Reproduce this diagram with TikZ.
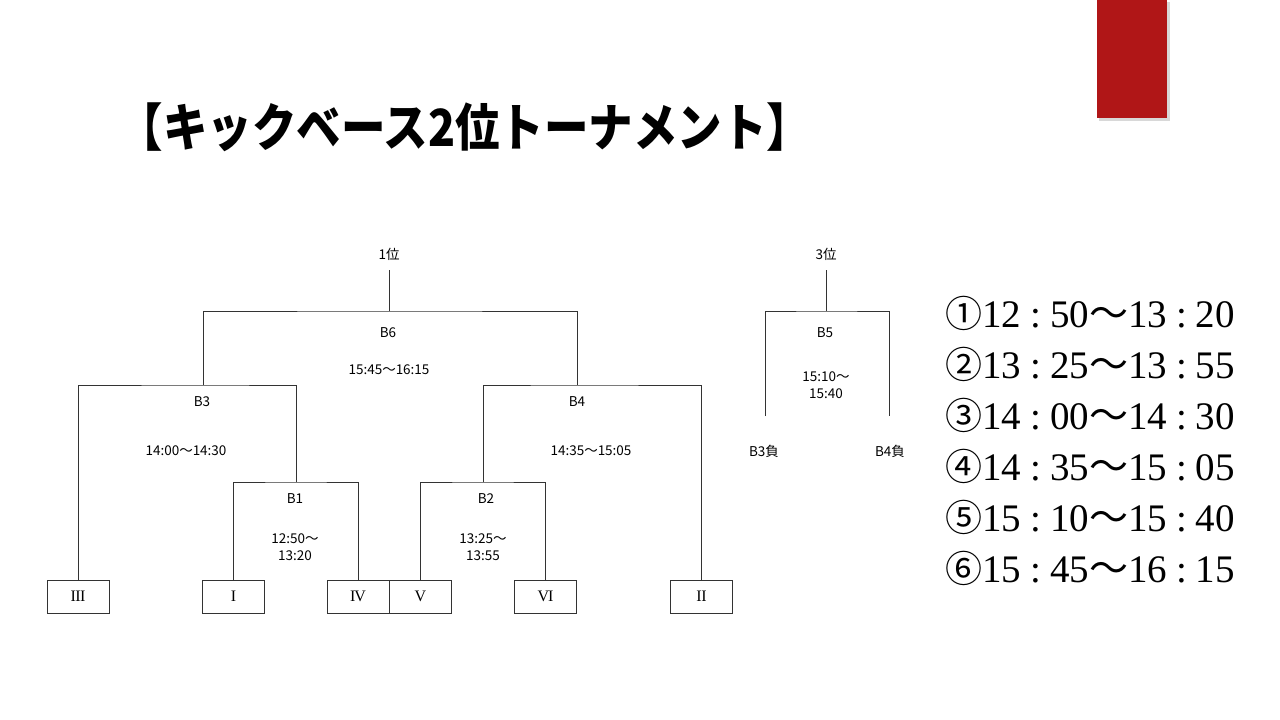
\documentclass[tikz,border=0pt]{standalone}
\usepackage{fontspec}
\usepackage{graphicx}
\newfontfamily\cjk{Noto Sans CJK JP}
\newfontfamily\ser{Liberation Serif}
\definecolor{tabred}{RGB}{176,22,23}
\newcommand{\schedcolon}{\hspace{9pt}{\ser :}\hspace{9pt}}
\newcommand{\schedline}[5]{{\cjk\fontsize{37}{37}\selectfont #1}{\ser #2}\schedcolon{\ser #3}{\cjk ～}{\ser #4}\schedcolon{\ser #5}}
\begin{document}
\begin{tikzpicture}[x=1pt,y=-1pt,
  conn/.style={draw=black!80, line width=0.9pt},
  lbl/.style={inner sep=0pt, font=\cjk\fontsize{13.5}{17}\selectfont, align=center},
  rbox/.style={draw=black!80, line width=0.9pt, minimum width=62pt, minimum height=33pt, inner sep=0pt, font=\ser\fontsize{16}{16}\selectfont},
  sched/.style={anchor=west, inner sep=0pt, font=\fontsize{39}{39}\selectfont}]
\useasboundingbox (0,0) rectangle (1280,720);
\fill[white] (0,0) rectangle (1280,720);
% red tab
\fill[black!25, opacity=0.6] (1099,2) rectangle (1170,121);
\fill[tabred] (1097,0) rectangle (1167,118);
% title
\node[inner sep=0pt, font=\cjk\bfseries\fontsize{44.5}{44.5}\selectfont] (title) at (465,127) {\scalebox{1}[1.15]{【キックベース2位トーナメント】}};
% boxes
\node[rbox] (rIII) at (78,596.5) {I\kern-0.5ptI\kern-0.5ptI};
\node[rbox] (rI) at (233.5,596.5) {I};
\node[rbox] (rIV) at (358,596.5) {I\kern-1ptV};
\node[rbox] (rV) at (420.5,596.5) {V};
\node[rbox] (rVI) at (545.5,596.5) {V\kern-1ptI};
\node[rbox] (rII) at (701.5,596.5) {I\kern-0.5ptI};
% junctions
\coordinate (t6) at (389,270);
\coordinate (c6) at (389,311);
\coordinate (c3) at (203,385);
\coordinate (c4) at (577,385);
\coordinate (c1) at (296,482);
\coordinate (c2) at (483,482);
\coordinate (t5) at (826,270);
\coordinate (c5) at (826,311);
\coordinate (l5) at (765,416);
\coordinate (r5) at (889,416);
% connectors
\draw[conn] (t6) -- (c6);
\draw[conn] (c3) |- (c6) -| (c4);
\draw[conn] (rIII.north) |- (c3) -| (c1);
\draw[conn] (rI.north) |- (c1) -| (rIV.north);
\draw[conn] (c2) |- (c4) -| (rII.north);
\draw[conn] (rV.north) |- (c2) -| (rVI.north);
\draw[conn] (t5) -- (c5);
\draw[conn] (l5) |- (c5) -| (r5);
% labels
\node[lbl] (w1) at (389,254) {1位};
\node[lbl] (b6) at (388,333) {B6};
\node[lbl] (b6t) at (389,370) {15:45〜16:15};
\node[lbl] (b3) at (202,402) {B3};
\node[lbl] (b3t) at (186,451) {14:00〜14:30};
\node[lbl] (b4) at (577,402) {B4};
\node[lbl] (b4t) at (591,451) {14:35〜15:05};
\node[lbl] (b1) at (295,499) {B1};
\node[lbl] (b1t) at (295,547) {12:50〜\\13:20};
\node[lbl] (b2) at (486,499) {B2};
\node[lbl] (b2t) at (483,547) {13:25〜\\13:55};
\node[lbl] (w3) at (826,254) {3位};
\node[lbl] (b5) at (825,333) {B5};
\node[lbl] (b5t) at (826,385) {15:10〜\\15:40};
\node[lbl] (l3) at (764,451) {B3負};
\node[lbl] (l4) at (890,451) {B4負};
% schedule
\node[sched] (s1) at (945,313) {\schedline{①}{12}{50}{13}{20}};
\node[sched] (s2) at (945,364) {\schedline{②}{13}{25}{13}{55}};
\node[sched] (s3) at (945,415) {\schedline{③}{14}{00}{14}{30}};
\node[sched] (s4) at (945,466) {\schedline{④}{14}{35}{15}{05}};
\node[sched] (s5) at (945,517) {\schedline{⑤}{15}{10}{15}{40}};
\node[sched] (s6) at (945,568) {\schedline{⑥}{15}{45}{16}{15}};
\end{tikzpicture}
\end{document}
